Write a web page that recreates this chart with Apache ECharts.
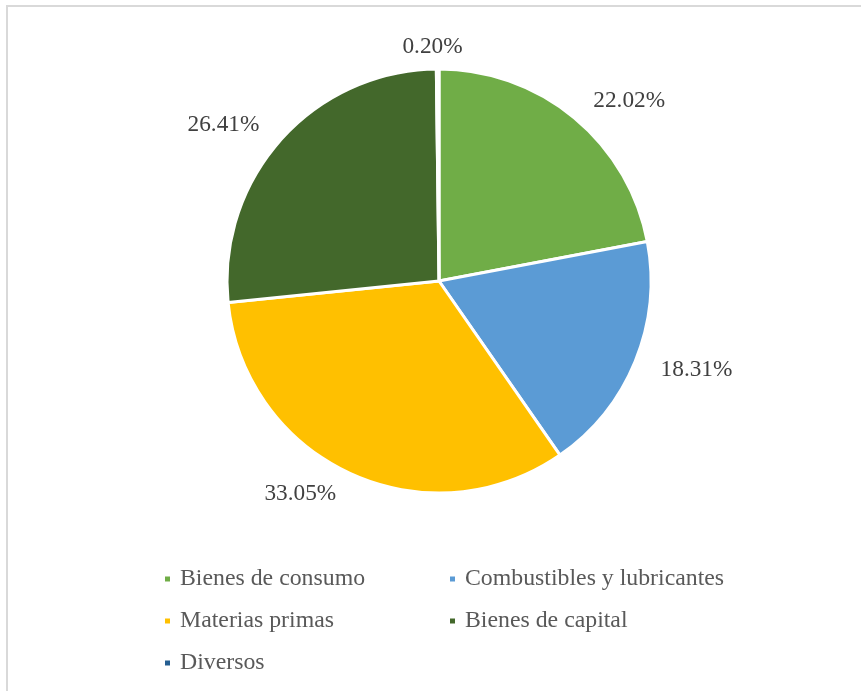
<!DOCTYPE html>
<html>
<head>
<meta charset="utf-8">
<script src="https://cdn.jsdelivr.net/npm/echarts@6/dist/echarts.min.js"></script>
<style>
html,body{margin:0;padding:0;background:#fff;}
#frame{position:absolute;left:6px;top:5px;width:900px;height:800px;border:2px solid #d9d9d9;box-sizing:border-box;}
#chart{position:absolute;left:0;top:0;width:861px;height:691px;}
</style>
</head>
<body>
<div id="frame"></div>
<div id="chart"></div>
<script>
const categories = ['Bienes de consumo', 'Combustibles y lubricantes', 'Materias primas', 'Bienes de capital', 'Diversos'];
const values = [22.02, 18.31, 33.05, 26.41, 0.20];
const colors = ['#70AD47', '#5B9BD5', '#FFC000', '#43682B', '#255E91'];
const legendCol1 = ['Bienes de consumo', 'Materias primas', 'Diversos'];
const legendCol2 = ['Combustibles y lubricantes', 'Bienes de capital'];

const chart = echarts.init(document.getElementById('chart'), null, {renderer: 'canvas'});
const font = "'Liberation Serif', 'Times New Roman', serif";
const legendBase = {
  orient: 'vertical',
  icon: 'rect',
  itemWidth: 7,
  itemHeight: 7,
  itemGap: 18,
  selectedMode: false,
  textStyle: {fontFamily: font, fontSize: 23.8, color: '#595959', lineHeight: 24, padding: [0, 0, 0, 4]}
};
chart.setOption({
  animation: false,
  color: colors,
  legend: [
    Object.assign({}, legendBase, {left: 158, top: 562, data: legendCol1}),
    Object.assign({}, legendBase, {left: 443, top: 562, data: legendCol2})
  ],
  series: [{
    type: 'pie',
    center: [439, 281],
    radius: 212,
    startAngle: 90,
    clockwise: true,
    avoidLabelOverlap: false,
    itemStyle: {borderColor: '#fff', borderWidth: 3},
    label: {
      show: true,
      position: 'outside',
      formatter: p => p.value.toFixed(2) + '%',
      fontFamily: font,
      fontSize: 23.3,
      color: '#404040'
    },
    labelLine: {show: false, length: 22, length2: 0},
    labelLayout: p => p.dataIndex === 4 ? {align: 'center'} : {},
    emphasis: {disabled: true},
    data: categories.map((c, i) => ({name: c, value: values[i]}))
  }]
});
</script>
</body>
</html>
